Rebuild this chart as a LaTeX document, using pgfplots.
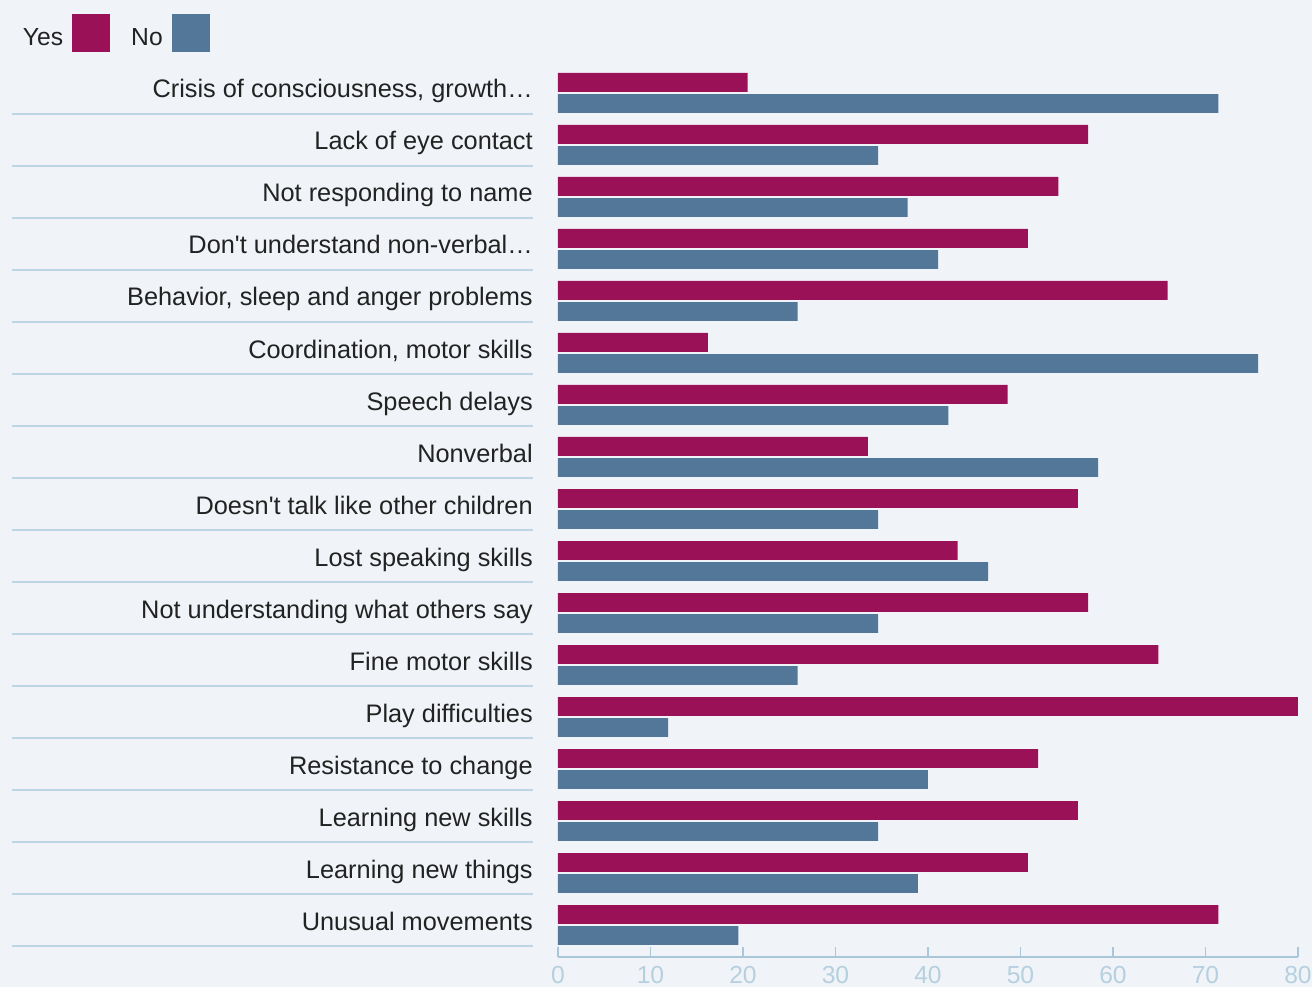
\documentclass[border=0pt]{standalone}
\usepackage{pgfplots}
\pgfplotsset{compat=1.18}
\usepackage{pgfplotstable}
\usepackage{fontspec}
\setmainfont{Liberation Sans}
\definecolor{bgcol}{HTML}{F0F4F8}
\definecolor{yescol}{HTML}{9A1158}
\definecolor{nocol}{HTML}{537798}
\definecolor{sepcol}{HTML}{BED6E4}
\definecolor{axcol}{HTML}{AAC7D9}
\definecolor{tickcol}{HTML}{B6D0DF}
\definecolor{textcol}{HTML}{222222}

\pgfplotstableread{
idx yes no
0 20.5 71.4
1 57.3 34.6
2 54.1 37.8
3 50.8 41.1
4 65.9 25.9
5 16.2 75.7
6 48.6 42.2
7 33.5 58.4
8 56.2 34.6
9 43.2 46.5
10 57.3 34.6
11 64.9 25.9
12 80.0 11.9
13 51.9 40.0
14 56.2 34.6
15 50.8 38.9
16 71.4 19.5
}\datatable

\begin{document}
\begin{tikzpicture}
\fill[bgcol] (-418.5pt,-22.5pt) rectangle (565.5pt,717.75pt);
\begin{axis}[
  at={(0,0)}, anchor=south west,
  scale only axis, width=555pt, height=671.25pt,
  xmin=0, xmax=80, ymin=-0.5, ymax=16.7115,
  y dir=reverse,
  clip=false,
  axis x line*=bottom, axis y line*=left,
  x axis line style={draw=axcol, line width=1.1pt},
  y axis line style={draw=none},
  xtick={0,10,...,80},
  ytick={0,...,16},
  yticklabels={{Crisis of consciousness, growth…},{Lack of eye contact},{Not responding to name},{Don\textquotesingle t understand non-verbal…},{Behavior, sleep and anger problems},{Coordination, motor skills},{Speech delays},{Nonverbal},{Doesn\textquotesingle t talk like other children},{Lost speaking skills},{Not understanding what others say},{Fine motor skills},{Play difficulties},{Resistance to change},{Learning new skills},{Learning new things},{Unusual movements}},
  tick align=inside,
  major tick length=7.5pt,
  xtick style={draw=axcol, line width=1.1pt},
  ytick style={draw=none},
  /pgf/number format/assume math mode=true,
  xticklabel style={font=\fontsize{18.5}{22}\selectfont, text=tickcol, anchor=base, inner sep=0pt, yshift=-19.5pt},
  yticklabel style={font=\fontsize{19}{22}\selectfont, text=textcol, anchor=base east, inner sep=0pt, xshift=-18.75pt, yshift=-7.5pt},
  legend columns=2,
  legend plot pos=right,
  legend image code/.code={\fill[#1] (0pt,-10.5pt) rectangle (28.5pt,18pt); \path (37.5pt,0pt);},
  legend style={at={(-0.72297,1.05363)}, anchor=north west, draw=none, fill=none, inner sep=0pt, outer sep=0pt, column sep=6.75pt, nodes={inner sep=0pt, text=textcol, font=\fontsize{18.5}{22}\selectfont}},
]
\addplot[xbar, bar width=0.365, bar shift=0pt, fill=yescol, draw=none] table[x=yes, y expr=\thisrow{idx}-0.106] {\datatable};
\addlegendentry{Yes}
\addplot[xbar, bar width=0.365, bar shift=0pt, fill=nocol, draw=none] table[x=no, y expr=\thisrow{idx}+0.298] {\datatable};
\addlegendentry{No}
\pgfplotsinvokeforeach{0,...,16}{
  \draw[sepcol, line width=1.1pt] (axis cs:-59.03,#1+0.5) -- (axis cs:-2.70,#1+0.5);
}
\end{axis}
\pgfresetboundingbox
\path[use as bounding box] (-418.5pt,-22.5pt) rectangle (565.5pt,717.75pt);
\end{tikzpicture}
\end{document}
